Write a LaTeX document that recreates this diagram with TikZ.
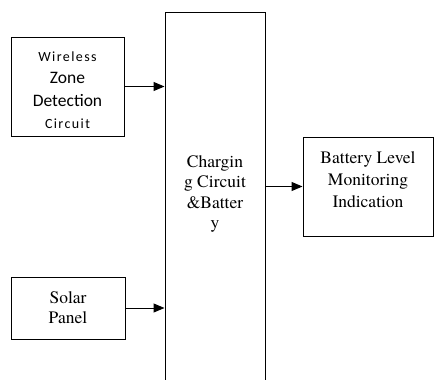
\documentclass[tikz,border=0pt]{standalone}
\usepackage{fontspec}
\newfontfamily\timesfont{TeX Gyre Termes}
\newfontfamily\calibrifont{Carlito}
\newfontfamily\calibrispaced[LetterSpace=10]{Carlito}
\usetikzlibrary{arrows.meta, positioning}

\begin{document}
\begin{tikzpicture}[x=1pt, y=1pt,
    block/.style={draw, line width=1pt, align=center, inner sep=0pt},
    blocktext/.style={align=center, inner sep=0pt, font=\timesfont\fontsize{17.5}{22}\selectfont},
    arrow/.style={-{Triangle[length=11pt, width=9pt]}, line width=1pt}]
    \useasboundingbox (0,0) rectangle (434,-380);

    \node (wireless) [block, minimum width=113pt, minimum height=99pt] at (67.5,-86.5) {};
    \node (wirelesstxt) [blocktext, font=\calibrifont\fontsize{17.5}{22.5}\selectfont] at (67.5,-90) {{\calibrispaced\fontsize{14}{22.5}\selectfont Wireless}\\Zone\\Detection\\{\calibrispaced\fontsize{14}{22.5}\selectfont Circuit}};

    \node (solar) [block, minimum width=114pt, minimum height=62pt, font=\timesfont\fontsize{17.5}{20}\selectfont] at (68,-308) {Solar\\Panel};

    \node (charger) [block, minimum width=100pt, minimum height=383pt] at (215,-203.5) {};
    \node (chargertxt) [blocktext, font=\timesfont\fontsize{17.5}{20.5}\selectfont] at (215,-194) {Chargin\\g Circuit\\\&Batter\\y};

    \node (battery) [block, minimum width=130pt, minimum height=99pt] at (368,-186.5) {};
    \node (batterytxt) [blocktext] at (368,-180) {Battery Level\\Monitoring\\Indication};

    \draw[arrow] (wireless.east) -- (wireless.east -| charger.west);
    \draw[arrow] (solar.east) -- (solar.east -| charger.west);
    \draw[arrow] (charger.east |- battery.west) -- (battery.west);
\end{tikzpicture}
\end{document}
